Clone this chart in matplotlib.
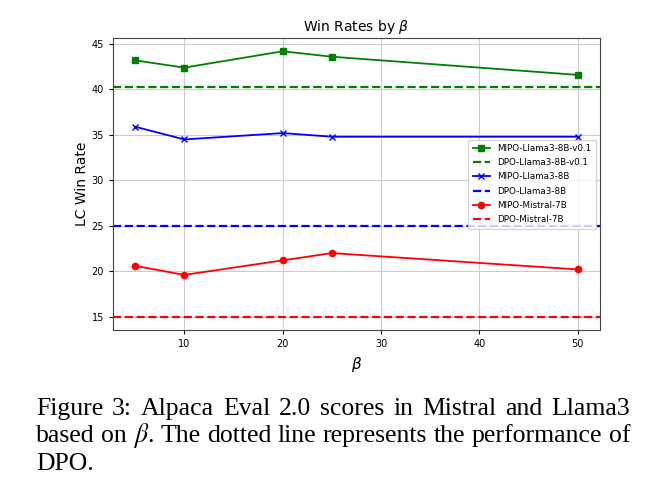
import matplotlib
matplotlib.use("Agg")
import matplotlib.pyplot as plt

# beta values
betas = [5, 10, 20, 25, 50]

# LC win rates
mipo_llama3_v01 = [43.2, 42.4, 44.2, 43.6, 41.6]
dpo_llama3_v01 = 40.3
mipo_llama3 = [35.9, 34.5, 35.2, 34.8, 34.8]
dpo_llama3 = 25.0
mipo_mistral = [20.6, 19.6, 21.2, 22.0, 20.2]
dpo_mistral = 15.0

caption_lines = [
    'Figure 3: Alpaca Eval 2.0 scores in Mistral and Llama3',
    r'based on $\beta$. The dotted line represents the performance of',
    'DPO.',
]

fig = plt.figure(figsize=(6.68, 4.95), dpi=100)
ax = fig.add_axes([113/668, 1 - 330/495, 487/668, 292/495])

ax.plot(betas, mipo_llama3_v01, color='green', marker='s', markersize=4.5, lw=1.3, label='MIPO-Llama3-8B-v0.1')
ax.axhline(dpo_llama3_v01, color='green', ls='--', lw=1.6, label='DPO-Llama3-8B-v0.1')
ax.plot(betas, mipo_llama3, color='blue', marker='x', markersize=4.5, lw=1.3, label='MIPO-Llama3-8B')
ax.axhline(dpo_llama3, color='blue', ls='--', lw=1.6, label='DPO-Llama3-8B')
ax.plot(betas, mipo_mistral, color='red', marker='o', markersize=4.5, lw=1.3, label='MIPO-Mistral-7B')
ax.axhline(dpo_mistral, color='red', ls='--', lw=1.6, label='DPO-Mistral-7B')

ax.set_yticks([15, 20, 25, 30, 35, 40, 45])
ax.set_xticks([10, 20, 30, 40, 50])
ax.tick_params(labelsize=7, length=3)
ax.grid(True, color='#cccccc', lw=0.8)
ax.set_title(r'Win Rates by $\beta$', fontsize=10, pad=5)
ax.set_xlabel(r'$\beta$', fontsize=11)
ax.set_ylabel('LC Win Rate', fontsize=10, labelpad=2)
for s in ax.spines.values():
    s.set_color('#444444')

ax.legend(loc='center right', fontsize=6.3, handlelength=2.0,
          labelspacing=0.6, borderpad=0.5, framealpha=0.8)

# justified caption, word by word
cap = {'family': 'Liberation Serif', 'fontsize': 18.5, 'color': 'black', 'math_fontfamily': 'stix'}
left, right = 36, 630
r = fig.canvas.get_renderer()
ys = [415, 442, 470]
for i, line in enumerate(caption_lines):
    words = line.split(' ')
    if i == len(caption_lines) - 1:
        fig.text(left/668, 1 - ys[i]/495, line, va='baseline', **cap)
        continue
    txts = [fig.text(0, 1 - ys[i]/495, w, va='baseline', **cap) for w in words]
    widths = [t.get_window_extent(renderer=r).width for t in txts]
    gap = (right - left - sum(widths)) / (len(words) - 1)
    x = left
    for t, w in zip(txts, widths):
        t.set_x(x/668)
        x += w + gap

fig.savefig('out.png', dpi=100)
